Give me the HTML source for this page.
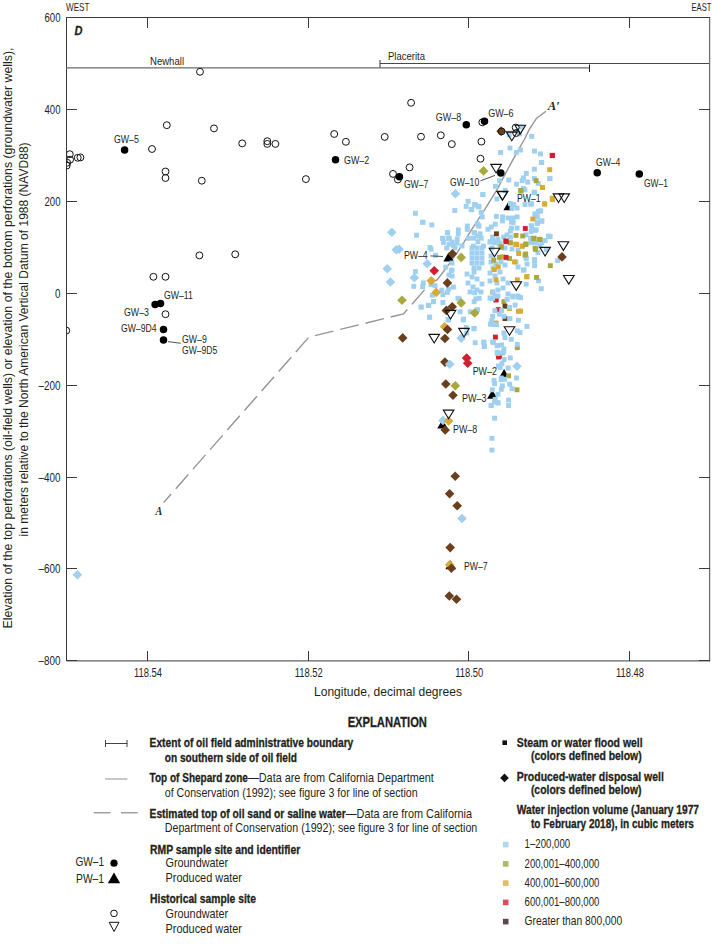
<!DOCTYPE html><html><head><meta charset="utf-8"><style>html,body{margin:0;padding:0;background:#fff;width:713px;height:948px;overflow:hidden}svg{display:block}</style></head><body><svg width="713" height="948" viewBox="0 0 713 948">
<rect width="713" height="948" fill="#fff"/>
<polyline points="709.5,17.5 66.5,17.5 66.5,660.9 709.5,660.9" fill="none" stroke="#3a3a3a" stroke-width="1"/>
<line x1="709.6" y1="17" x2="709.6" y2="661.4" stroke="#707070" stroke-width="1.3"/>
<line x1="147.5" y1="651" x2="147.5" y2="661" stroke="#3a3a3a" stroke-width="1"/>
<line x1="147.5" y1="17" x2="147.5" y2="28" stroke="#3a3a3a" stroke-width="1"/>
<line x1="308.5" y1="651" x2="308.5" y2="661" stroke="#3a3a3a" stroke-width="1"/>
<line x1="308.5" y1="17" x2="308.5" y2="28" stroke="#3a3a3a" stroke-width="1"/>
<line x1="468.5" y1="651" x2="468.5" y2="661" stroke="#3a3a3a" stroke-width="1"/>
<line x1="468.5" y1="17" x2="468.5" y2="28" stroke="#3a3a3a" stroke-width="1"/>
<line x1="629.5" y1="651" x2="629.5" y2="661" stroke="#3a3a3a" stroke-width="1"/>
<line x1="629.5" y1="17" x2="629.5" y2="28" stroke="#3a3a3a" stroke-width="1"/>
<line x1="66" y1="660.5" x2="77" y2="660.5" stroke="#3a3a3a" stroke-width="1"/>
<line x1="699" y1="660.5" x2="710" y2="660.5" stroke="#3a3a3a" stroke-width="1"/>
<line x1="66" y1="568.5" x2="77" y2="568.5" stroke="#3a3a3a" stroke-width="1"/>
<line x1="699" y1="568.5" x2="710" y2="568.5" stroke="#3a3a3a" stroke-width="1"/>
<line x1="66" y1="477.5" x2="77" y2="477.5" stroke="#3a3a3a" stroke-width="1"/>
<line x1="699" y1="477.5" x2="710" y2="477.5" stroke="#3a3a3a" stroke-width="1"/>
<line x1="66" y1="385.5" x2="77" y2="385.5" stroke="#3a3a3a" stroke-width="1"/>
<line x1="699" y1="385.5" x2="710" y2="385.5" stroke="#3a3a3a" stroke-width="1"/>
<line x1="66" y1="293.5" x2="77" y2="293.5" stroke="#3a3a3a" stroke-width="1"/>
<line x1="699" y1="293.5" x2="710" y2="293.5" stroke="#3a3a3a" stroke-width="1"/>
<line x1="66" y1="201.5" x2="77" y2="201.5" stroke="#3a3a3a" stroke-width="1"/>
<line x1="699" y1="201.5" x2="710" y2="201.5" stroke="#3a3a3a" stroke-width="1"/>
<line x1="66" y1="109.5" x2="77" y2="109.5" stroke="#3a3a3a" stroke-width="1"/>
<line x1="699" y1="109.5" x2="710" y2="109.5" stroke="#3a3a3a" stroke-width="1"/>
<line x1="66" y1="17.5" x2="77" y2="17.5" stroke="#3a3a3a" stroke-width="1"/>
<line x1="699" y1="17.5" x2="710" y2="17.5" stroke="#3a3a3a" stroke-width="1"/>
<text x="60.5" y="665.0" font-family="Liberation Sans" font-size="12.2" font-weight="normal" font-style="normal" text-anchor="end" fill="#231f20" textLength="22.0" lengthAdjust="spacingAndGlyphs">–800</text>
<text x="60.5" y="573.0" font-family="Liberation Sans" font-size="12.2" font-weight="normal" font-style="normal" text-anchor="end" fill="#231f20" textLength="22.0" lengthAdjust="spacingAndGlyphs">–600</text>
<text x="60.5" y="482.0" font-family="Liberation Sans" font-size="12.2" font-weight="normal" font-style="normal" text-anchor="end" fill="#231f20" textLength="22.0" lengthAdjust="spacingAndGlyphs">–400</text>
<text x="60.5" y="390.0" font-family="Liberation Sans" font-size="12.2" font-weight="normal" font-style="normal" text-anchor="end" fill="#231f20" textLength="22.0" lengthAdjust="spacingAndGlyphs">–200</text>
<text x="60.5" y="298.0" font-family="Liberation Sans" font-size="12.2" font-weight="normal" font-style="normal" text-anchor="end" fill="#231f20" textLength="5.5" lengthAdjust="spacingAndGlyphs">0</text>
<text x="60.5" y="206.0" font-family="Liberation Sans" font-size="12.2" font-weight="normal" font-style="normal" text-anchor="end" fill="#231f20" textLength="16.0" lengthAdjust="spacingAndGlyphs">200</text>
<text x="60.5" y="114.0" font-family="Liberation Sans" font-size="12.2" font-weight="normal" font-style="normal" text-anchor="end" fill="#231f20" textLength="16.0" lengthAdjust="spacingAndGlyphs">400</text>
<text x="60.5" y="22.0" font-family="Liberation Sans" font-size="12.2" font-weight="normal" font-style="normal" text-anchor="end" fill="#231f20" textLength="16.0" lengthAdjust="spacingAndGlyphs">600</text>
<text x="148.0" y="677.0" font-family="Liberation Sans" font-size="12.2" font-weight="normal" font-style="normal" text-anchor="middle" fill="#231f20" textLength="28.0" lengthAdjust="spacingAndGlyphs">118.54</text>
<text x="308.7" y="677.0" font-family="Liberation Sans" font-size="12.2" font-weight="normal" font-style="normal" text-anchor="middle" fill="#231f20" textLength="28.0" lengthAdjust="spacingAndGlyphs">118.52</text>
<text x="469.3" y="677.0" font-family="Liberation Sans" font-size="12.2" font-weight="normal" font-style="normal" text-anchor="middle" fill="#231f20" textLength="28.0" lengthAdjust="spacingAndGlyphs">118.50</text>
<text x="630.0" y="677.0" font-family="Liberation Sans" font-size="12.2" font-weight="normal" font-style="normal" text-anchor="middle" fill="#231f20" textLength="28.0" lengthAdjust="spacingAndGlyphs">118.48</text>
<text x="66.0" y="11.0" font-family="Liberation Sans" font-size="10.8" font-weight="normal" font-style="normal" text-anchor="start" fill="#231f20" textLength="23.5" lengthAdjust="spacingAndGlyphs">WEST</text>
<text x="711.5" y="11.0" font-family="Liberation Sans" font-size="10.8" font-weight="normal" font-style="normal" text-anchor="end" fill="#231f20" textLength="20.0" lengthAdjust="spacingAndGlyphs">EAST</text>
<text x="74.6" y="35.0" font-family="Liberation Sans" font-size="13.5" font-weight="bold" font-style="italic" text-anchor="start" fill="#231f20" textLength="8.0" lengthAdjust="spacingAndGlyphs" stroke="#231f20" stroke-width="0.3">D</text>
<text x="388.0" y="696.3" font-family="Liberation Sans" font-size="13.5" font-weight="normal" font-style="normal" text-anchor="middle" fill="#231f20" textLength="148.0" lengthAdjust="spacingAndGlyphs">Longitude, decimal degrees</text>
<g transform="translate(12,338) rotate(-90)">
<text x="0.0" y="0.0" font-family="Liberation Sans" font-size="13.5" font-weight="normal" font-style="normal" text-anchor="middle" fill="#231f20" textLength="581.0" lengthAdjust="spacingAndGlyphs">Elevation of the top perforations (oil-field wells) or elevation of the bottom perforations (groundwater wells),</text>
</g>
<g transform="translate(27.9,339.4) rotate(-90)">
<text x="0.0" y="0.0" font-family="Liberation Sans" font-size="13.5" font-weight="normal" font-style="normal" text-anchor="middle" fill="#231f20" textLength="394.0" lengthAdjust="spacingAndGlyphs">in meters relative to the North American Vertical Datum of 1988 (NAVD88)</text>
</g>
<line x1="66" y1="67.9" x2="589.5" y2="67.9" stroke="#6a6a6a" stroke-width="1.4"/>
<line x1="589.5" y1="64.5" x2="589.5" y2="72" stroke="#222" stroke-width="1"/>
<line x1="380" y1="63.5" x2="709" y2="63.5" stroke="#333" stroke-width="0.9"/>
<line x1="380" y1="60" x2="380" y2="67.5" stroke="#333" stroke-width="1"/>
<text x="150.0" y="65.0" font-family="Liberation Sans" font-size="10.8" font-weight="normal" font-style="normal" text-anchor="start" fill="#231f20" textLength="34.0" lengthAdjust="spacingAndGlyphs">Newhall</text>
<text x="388.0" y="60.0" font-family="Liberation Sans" font-size="10.8" font-weight="normal" font-style="normal" text-anchor="start" fill="#231f20" textLength="37.0" lengthAdjust="spacingAndGlyphs">Placerita</text>
<defs><clipPath id="pc"><rect x="66.5" y="17.5" width="643" height="643.4"/></clipPath></defs>
<g clip-path="url(#pc)">
<polyline points="424.5,289.9 403.4,313.9 308.9,337.1 163.6,502.6" fill="none" stroke="#959595" stroke-width="1.4" stroke-dasharray="19 7"/>
<polyline points="428.7,284.4 437.3,279.6 445.2,269.3 452.8,258.9 457.5,252.2 464.2,241.8 471.9,229.2 484.2,210.3 496.6,190.3 506.1,172.3 517.5,151.4 524.1,140 529.3,129.4 536.6,118.2 546,111.3" fill="none" stroke="#959595" stroke-width="1.4"/>
<polygon points="503.4,210.2 514.0,210.2 508.7,201.2" fill="#000"/>
<polygon points="443.4,261.4 453.9,261.4 448.6,252.4" fill="#000"/>
<polygon points="498.9,378.1 509.4,378.1 504.1,369.1" fill="#000"/>
<polygon points="487.1,398.8 497.6,398.8 492.3,389.8" fill="#000"/>
<polygon points="437.2,428.5 447.8,428.5 442.5,419.5" fill="#000"/>
<polygon points="445.4,569.3 455.9,569.3 450.6,560.3" fill="#000"/>
<rect x="490.15" y="289.75" width="4.9" height="4.9" fill="#d8aa38"/>
<rect x="493.55" y="297.05" width="4.9" height="4.9" fill="#d21f30"/>
<rect x="518.15" y="308.65" width="4.9" height="4.9" fill="#d8aa38"/>
<rect x="493.55" y="297.55" width="4.9" height="4.9" fill="#d21f30"/>
<rect x="495.75" y="307.15" width="4.9" height="4.9" fill="#d21f30"/>
<rect x="492.95" y="334.65" width="4.9" height="4.9" fill="#d21f30"/>
<rect x="501.45" y="299.25" width="4.9" height="4.9" fill="#a8a83c"/>
<rect x="514.85" y="345.25" width="4.9" height="4.9" fill="#a8a83c"/>
<rect x="507.05" y="306.05" width="4.9" height="4.9" fill="#d8aa38"/>
<rect x="515.95" y="308.85" width="4.9" height="4.9" fill="#d8aa38"/>
<rect x="493.55" y="320.55" width="4.9" height="4.9" fill="#d8aa38"/>
<rect x="502.55" y="303.75" width="4.9" height="4.9" fill="#6b3f1e"/>
<rect x="502.55" y="316.15" width="4.9" height="4.9" fill="#6b3f1e"/>
<rect x="496.05" y="354.55" width="4.9" height="4.9" fill="#d21f30"/>
<rect x="497.15" y="353.75" width="4.9" height="4.9" fill="#d21f30"/>
<rect x="506.15" y="373.35" width="4.9" height="4.9" fill="#a8a83c"/>
<rect x="514.55" y="387.35" width="4.9" height="4.9" fill="#a8a83c"/>
<rect x="507.55" y="145.55" width="4.9" height="4.9" fill="#a0d0f0"/>
<rect x="498.15" y="150.05" width="4.9" height="4.9" fill="#a0d0f0"/>
<rect x="513.85" y="150.05" width="4.9" height="4.9" fill="#a0d0f0"/>
<rect x="518.05" y="147.55" width="4.9" height="4.9" fill="#a0d0f0"/>
<rect x="529.25" y="133.95" width="4.9" height="4.9" fill="#a0d0f0"/>
<rect x="532.05" y="148.65" width="4.9" height="4.9" fill="#a0d0f0"/>
<rect x="538.05" y="151.45" width="4.9" height="4.9" fill="#a0d0f0"/>
<rect x="506.65" y="132.35" width="4.9" height="4.9" fill="#a0d0f0"/>
<rect x="516.95" y="131.45" width="4.9" height="4.9" fill="#a0d0f0"/>
<rect x="518.95" y="124.55" width="4.9" height="4.9" fill="#a0d0f0"/>
<rect x="538.85" y="159.95" width="4.9" height="4.9" fill="#a0d0f0"/>
<rect x="531.95" y="166.75" width="4.9" height="4.9" fill="#a0d0f0"/>
<rect x="523.85" y="170.95" width="4.9" height="4.9" fill="#a0d0f0"/>
<rect x="547.25" y="176.15" width="4.9" height="4.9" fill="#a0d0f0"/>
<rect x="531.95" y="176.15" width="4.9" height="4.9" fill="#a0d0f0"/>
<rect x="535.75" y="181.05" width="4.9" height="4.9" fill="#a0d0f0"/>
<rect x="521.05" y="175.45" width="4.9" height="4.9" fill="#a0d0f0"/>
<rect x="525.25" y="179.65" width="4.9" height="4.9" fill="#a0d0f0"/>
<rect x="519.65" y="178.25" width="4.9" height="4.9" fill="#a0d0f0"/>
<rect x="506.35" y="177.55" width="4.9" height="4.9" fill="#a0d0f0"/>
<rect x="497.15" y="178.25" width="4.9" height="4.9" fill="#a0d0f0"/>
<rect x="492.95" y="183.85" width="4.9" height="4.9" fill="#a0d0f0"/>
<rect x="514.05" y="181.75" width="4.9" height="4.9" fill="#a0d0f0"/>
<rect x="521.05" y="185.95" width="4.9" height="4.9" fill="#a0d0f0"/>
<rect x="522.45" y="187.35" width="4.9" height="4.9" fill="#a0d0f0"/>
<rect x="532.25" y="190.15" width="4.9" height="4.9" fill="#a0d0f0"/>
<rect x="502.75" y="188.05" width="4.9" height="4.9" fill="#a0d0f0"/>
<rect x="480.35" y="192.25" width="4.9" height="4.9" fill="#a0d0f0"/>
<rect x="547.55" y="176.15" width="4.9" height="4.9" fill="#a0d0f0"/>
<rect x="539.25" y="160.15" width="4.9" height="4.9" fill="#a0d0f0"/>
<rect x="412.95" y="210.85" width="4.9" height="4.9" fill="#a0d0f0"/>
<rect x="420.55" y="219.85" width="4.9" height="4.9" fill="#a0d0f0"/>
<rect x="429.35" y="222.45" width="4.9" height="4.9" fill="#a0d0f0"/>
<rect x="414.05" y="232.75" width="4.9" height="4.9" fill="#a0d0f0"/>
<rect x="452.35" y="208.05" width="4.9" height="4.9" fill="#a0d0f0"/>
<rect x="465.65" y="198.85" width="4.9" height="4.9" fill="#a0d0f0"/>
<rect x="463.75" y="203.95" width="4.9" height="4.9" fill="#a0d0f0"/>
<rect x="468.75" y="207.25" width="4.9" height="4.9" fill="#a0d0f0"/>
<rect x="473.25" y="202.75" width="4.9" height="4.9" fill="#a0d0f0"/>
<rect x="476.05" y="204.45" width="4.9" height="4.9" fill="#a0d0f0"/>
<rect x="464.85" y="223.55" width="4.9" height="4.9" fill="#a0d0f0"/>
<rect x="464.85" y="226.95" width="4.9" height="4.9" fill="#a0d0f0"/>
<rect x="455.85" y="227.45" width="4.9" height="4.9" fill="#a0d0f0"/>
<rect x="455.85" y="231.45" width="4.9" height="4.9" fill="#a0d0f0"/>
<rect x="445.25" y="230.25" width="4.9" height="4.9" fill="#a0d0f0"/>
<rect x="440.15" y="235.85" width="4.9" height="4.9" fill="#a0d0f0"/>
<rect x="446.95" y="235.85" width="4.9" height="4.9" fill="#a0d0f0"/>
<rect x="454.75" y="236.55" width="4.9" height="4.9" fill="#a0d0f0"/>
<rect x="476.05" y="223.55" width="4.9" height="4.9" fill="#a0d0f0"/>
<rect x="471.55" y="230.25" width="4.9" height="4.9" fill="#a0d0f0"/>
<rect x="474.95" y="233.65" width="4.9" height="4.9" fill="#a0d0f0"/>
<rect x="465.95" y="235.85" width="4.9" height="4.9" fill="#a0d0f0"/>
<rect x="480.45" y="192.05" width="4.9" height="4.9" fill="#a0d0f0"/>
<rect x="531.55" y="189.75" width="4.9" height="4.9" fill="#a0d0f0"/>
<rect x="494.45" y="196.55" width="4.9" height="4.9" fill="#a0d0f0"/>
<rect x="472.05" y="202.15" width="4.9" height="4.9" fill="#a0d0f0"/>
<rect x="476.55" y="203.85" width="4.9" height="4.9" fill="#a0d0f0"/>
<rect x="469.25" y="207.15" width="4.9" height="4.9" fill="#a0d0f0"/>
<rect x="478.75" y="209.95" width="4.9" height="4.9" fill="#a0d0f0"/>
<rect x="479.85" y="214.45" width="4.9" height="4.9" fill="#a0d0f0"/>
<rect x="507.95" y="201.05" width="4.9" height="4.9" fill="#a0d0f0"/>
<rect x="511.35" y="202.15" width="4.9" height="4.9" fill="#a0d0f0"/>
<rect x="514.65" y="205.55" width="4.9" height="4.9" fill="#a0d0f0"/>
<rect x="509.55" y="205.55" width="4.9" height="4.9" fill="#a0d0f0"/>
<rect x="528.15" y="201.55" width="4.9" height="4.9" fill="#a0d0f0"/>
<rect x="522.55" y="202.15" width="4.9" height="4.9" fill="#a0d0f0"/>
<rect x="535.95" y="208.85" width="4.9" height="4.9" fill="#a0d0f0"/>
<rect x="538.25" y="208.35" width="4.9" height="4.9" fill="#a0d0f0"/>
<rect x="532.65" y="211.65" width="4.9" height="4.9" fill="#a0d0f0"/>
<rect x="534.85" y="214.45" width="4.9" height="4.9" fill="#a0d0f0"/>
<rect x="539.35" y="218.45" width="4.9" height="4.9" fill="#a0d0f0"/>
<rect x="534.85" y="220.05" width="4.9" height="4.9" fill="#a0d0f0"/>
<rect x="528.75" y="223.45" width="4.9" height="4.9" fill="#a0d0f0"/>
<rect x="530.35" y="227.35" width="4.9" height="4.9" fill="#a0d0f0"/>
<rect x="533.75" y="227.35" width="4.9" height="4.9" fill="#a0d0f0"/>
<rect x="493.95" y="213.95" width="4.9" height="4.9" fill="#a0d0f0"/>
<rect x="500.05" y="214.45" width="4.9" height="4.9" fill="#a0d0f0"/>
<rect x="505.65" y="215.55" width="4.9" height="4.9" fill="#a0d0f0"/>
<rect x="510.15" y="215.55" width="4.9" height="4.9" fill="#a0d0f0"/>
<rect x="514.65" y="214.45" width="4.9" height="4.9" fill="#a0d0f0"/>
<rect x="500.05" y="218.45" width="4.9" height="4.9" fill="#a0d0f0"/>
<rect x="509.05" y="219.55" width="4.9" height="4.9" fill="#a0d0f0"/>
<rect x="510.75" y="220.05" width="4.9" height="4.9" fill="#a0d0f0"/>
<rect x="492.75" y="221.75" width="4.9" height="4.9" fill="#a0d0f0"/>
<rect x="488.85" y="224.55" width="4.9" height="4.9" fill="#a0d0f0"/>
<rect x="485.55" y="226.85" width="4.9" height="4.9" fill="#a0d0f0"/>
<rect x="476.55" y="223.45" width="4.9" height="4.9" fill="#a0d0f0"/>
<rect x="509.05" y="225.65" width="4.9" height="4.9" fill="#a0d0f0"/>
<rect x="514.65" y="225.65" width="4.9" height="4.9" fill="#a0d0f0"/>
<rect x="507.95" y="228.55" width="4.9" height="4.9" fill="#a0d0f0"/>
<rect x="504.55" y="232.45" width="4.9" height="4.9" fill="#a0d0f0"/>
<rect x="507.95" y="234.65" width="4.9" height="4.9" fill="#a0d0f0"/>
<rect x="523.55" y="232.45" width="4.9" height="4.9" fill="#a0d0f0"/>
<rect x="528.15" y="235.75" width="4.9" height="4.9" fill="#a0d0f0"/>
<rect x="546.05" y="233.55" width="4.9" height="4.9" fill="#a0d0f0"/>
<rect x="489.95" y="234.65" width="4.9" height="4.9" fill="#a0d0f0"/>
<rect x="495.55" y="236.95" width="4.9" height="4.9" fill="#a0d0f0"/>
<rect x="487.75" y="239.15" width="4.9" height="4.9" fill="#a0d0f0"/>
<rect x="492.25" y="240.25" width="4.9" height="4.9" fill="#a0d0f0"/>
<rect x="496.75" y="241.45" width="4.9" height="4.9" fill="#a0d0f0"/>
<rect x="501.25" y="234.65" width="4.9" height="4.9" fill="#a0d0f0"/>
<rect x="472.05" y="230.15" width="4.9" height="4.9" fill="#a0d0f0"/>
<rect x="477.65" y="231.35" width="4.9" height="4.9" fill="#a0d0f0"/>
<rect x="470.95" y="235.75" width="4.9" height="4.9" fill="#a0d0f0"/>
<rect x="475.45" y="239.15" width="4.9" height="4.9" fill="#a0d0f0"/>
<rect x="478.75" y="235.75" width="4.9" height="4.9" fill="#a0d0f0"/>
<rect x="470.95" y="243.65" width="4.9" height="4.9" fill="#a0d0f0"/>
<rect x="481.05" y="243.65" width="4.9" height="4.9" fill="#a0d0f0"/>
<rect x="528.75" y="240.25" width="4.9" height="4.9" fill="#a0d0f0"/>
<rect x="533.75" y="240.25" width="4.9" height="4.9" fill="#a0d0f0"/>
<rect x="539.35" y="240.25" width="4.9" height="4.9" fill="#a0d0f0"/>
<rect x="542.75" y="238.05" width="4.9" height="4.9" fill="#a0d0f0"/>
<rect x="474.85" y="221.25" width="4.9" height="4.9" fill="#a0d0f0"/>
<rect x="420.25" y="219.75" width="4.9" height="4.9" fill="#a0d0f0"/>
<rect x="444.95" y="230.45" width="4.9" height="4.9" fill="#a0d0f0"/>
<rect x="440.45" y="236.05" width="4.9" height="4.9" fill="#a0d0f0"/>
<rect x="446.05" y="236.05" width="4.9" height="4.9" fill="#a0d0f0"/>
<rect x="440.95" y="239.95" width="4.9" height="4.9" fill="#a0d0f0"/>
<rect x="446.55" y="241.65" width="4.9" height="4.9" fill="#a0d0f0"/>
<rect x="451.05" y="243.35" width="4.9" height="4.9" fill="#a0d0f0"/>
<rect x="444.35" y="245.55" width="4.9" height="4.9" fill="#a0d0f0"/>
<rect x="427.55" y="245.05" width="4.9" height="4.9" fill="#a0d0f0"/>
<rect x="428.65" y="246.75" width="4.9" height="4.9" fill="#a0d0f0"/>
<rect x="433.15" y="252.85" width="4.9" height="4.9" fill="#a0d0f0"/>
<rect x="443.25" y="264.65" width="4.9" height="4.9" fill="#a0d0f0"/>
<rect x="448.85" y="268.05" width="4.9" height="4.9" fill="#a0d0f0"/>
<rect x="446.55" y="272.55" width="4.9" height="4.9" fill="#a0d0f0"/>
<rect x="412.95" y="269.05" width="4.9" height="4.9" fill="#a0d0f0"/>
<rect x="411.35" y="283.85" width="4.9" height="4.9" fill="#a0d0f0"/>
<rect x="420.85" y="280.45" width="4.9" height="4.9" fill="#a0d0f0"/>
<rect x="420.25" y="284.35" width="4.9" height="4.9" fill="#a0d0f0"/>
<rect x="428.75" y="282.15" width="4.9" height="4.9" fill="#a0d0f0"/>
<rect x="432.65" y="283.25" width="4.9" height="4.9" fill="#a0d0f0"/>
<rect x="429.85" y="292.75" width="4.9" height="4.9" fill="#a0d0f0"/>
<rect x="430.95" y="298.95" width="4.9" height="4.9" fill="#a0d0f0"/>
<rect x="425.85" y="302.85" width="4.9" height="4.9" fill="#a0d0f0"/>
<rect x="418.65" y="304.55" width="4.9" height="4.9" fill="#a0d0f0"/>
<rect x="427.05" y="314.65" width="4.9" height="4.9" fill="#a0d0f0"/>
<rect x="440.45" y="300.05" width="4.9" height="4.9" fill="#a0d0f0"/>
<rect x="439.35" y="287.75" width="4.9" height="4.9" fill="#a0d0f0"/>
<rect x="446.05" y="286.65" width="4.9" height="4.9" fill="#a0d0f0"/>
<rect x="444.95" y="289.95" width="4.9" height="4.9" fill="#a0d0f0"/>
<rect x="445.55" y="316.95" width="4.9" height="4.9" fill="#a0d0f0"/>
<rect x="440.45" y="292.25" width="4.9" height="4.9" fill="#a0d0f0"/>
<rect x="469.55" y="245.55" width="4.9" height="4.9" fill="#a0d0f0"/>
<rect x="474.55" y="245.55" width="4.9" height="4.9" fill="#a0d0f0"/>
<rect x="479.55" y="245.55" width="4.9" height="4.9" fill="#a0d0f0"/>
<rect x="469.55" y="250.55" width="4.9" height="4.9" fill="#a0d0f0"/>
<rect x="474.55" y="250.55" width="4.9" height="4.9" fill="#a0d0f0"/>
<rect x="479.55" y="250.55" width="4.9" height="4.9" fill="#a0d0f0"/>
<rect x="469.55" y="255.55" width="4.9" height="4.9" fill="#a0d0f0"/>
<rect x="474.55" y="255.55" width="4.9" height="4.9" fill="#a0d0f0"/>
<rect x="479.55" y="255.55" width="4.9" height="4.9" fill="#a0d0f0"/>
<rect x="469.55" y="260.55" width="4.9" height="4.9" fill="#a0d0f0"/>
<rect x="474.55" y="260.55" width="4.9" height="4.9" fill="#a0d0f0"/>
<rect x="479.55" y="260.55" width="4.9" height="4.9" fill="#a0d0f0"/>
<rect x="471.55" y="265.55" width="4.9" height="4.9" fill="#a0d0f0"/>
<rect x="476.55" y="265.55" width="4.9" height="4.9" fill="#a0d0f0"/>
<rect x="471.55" y="269.55" width="4.9" height="4.9" fill="#a0d0f0"/>
<rect x="449.55" y="239.55" width="4.9" height="4.9" fill="#a0d0f0"/>
<rect x="454.55" y="240.55" width="4.9" height="4.9" fill="#a0d0f0"/>
<rect x="459.55" y="243.55" width="4.9" height="4.9" fill="#a0d0f0"/>
<rect x="452.55" y="245.55" width="4.9" height="4.9" fill="#a0d0f0"/>
<rect x="449.55" y="260.55" width="4.9" height="4.9" fill="#a0d0f0"/>
<rect x="449.55" y="267.55" width="4.9" height="4.9" fill="#a0d0f0"/>
<rect x="449.55" y="273.55" width="4.9" height="4.9" fill="#a0d0f0"/>
<rect x="464.55" y="271.55" width="4.9" height="4.9" fill="#a0d0f0"/>
<rect x="469.55" y="274.55" width="4.9" height="4.9" fill="#a0d0f0"/>
<rect x="474.55" y="276.55" width="4.9" height="4.9" fill="#a0d0f0"/>
<rect x="479.55" y="281.55" width="4.9" height="4.9" fill="#a0d0f0"/>
<rect x="465.55" y="280.55" width="4.9" height="4.9" fill="#a0d0f0"/>
<rect x="470.55" y="284.55" width="4.9" height="4.9" fill="#a0d0f0"/>
<rect x="474.55" y="287.55" width="4.9" height="4.9" fill="#a0d0f0"/>
<rect x="478.55" y="289.55" width="4.9" height="4.9" fill="#a0d0f0"/>
<rect x="467.55" y="289.55" width="4.9" height="4.9" fill="#a0d0f0"/>
<rect x="455.45" y="295.85" width="4.9" height="4.9" fill="#a0d0f0"/>
<rect x="450.95" y="284.65" width="4.9" height="4.9" fill="#a0d0f0"/>
<rect x="472.25" y="290.25" width="4.9" height="4.9" fill="#a0d0f0"/>
<rect x="476.75" y="295.85" width="4.9" height="4.9" fill="#a0d0f0"/>
<rect x="487.55" y="239.55" width="4.9" height="4.9" fill="#a0d0f0"/>
<rect x="492.55" y="238.55" width="4.9" height="4.9" fill="#a0d0f0"/>
<rect x="497.55" y="240.55" width="4.9" height="4.9" fill="#a0d0f0"/>
<rect x="507.55" y="240.55" width="4.9" height="4.9" fill="#a0d0f0"/>
<rect x="512.55" y="241.55" width="4.9" height="4.9" fill="#a0d0f0"/>
<rect x="502.55" y="245.55" width="4.9" height="4.9" fill="#a0d0f0"/>
<rect x="509.55" y="246.55" width="4.9" height="4.9" fill="#a0d0f0"/>
<rect x="515.55" y="247.55" width="4.9" height="4.9" fill="#a0d0f0"/>
<rect x="489.55" y="245.55" width="4.9" height="4.9" fill="#a0d0f0"/>
<rect x="488.55" y="253.55" width="4.9" height="4.9" fill="#a0d0f0"/>
<rect x="488.55" y="259.55" width="4.9" height="4.9" fill="#a0d0f0"/>
<rect x="493.55" y="261.55" width="4.9" height="4.9" fill="#a0d0f0"/>
<rect x="498.55" y="259.55" width="4.9" height="4.9" fill="#a0d0f0"/>
<rect x="503.55" y="255.55" width="4.9" height="4.9" fill="#a0d0f0"/>
<rect x="502.55" y="262.55" width="4.9" height="4.9" fill="#a0d0f0"/>
<rect x="490.55" y="265.55" width="4.9" height="4.9" fill="#a0d0f0"/>
<rect x="487.55" y="270.55" width="4.9" height="4.9" fill="#a0d0f0"/>
<rect x="492.55" y="273.55" width="4.9" height="4.9" fill="#a0d0f0"/>
<rect x="497.55" y="269.55" width="4.9" height="4.9" fill="#a0d0f0"/>
<rect x="487.55" y="278.55" width="4.9" height="4.9" fill="#a0d0f0"/>
<rect x="494.55" y="280.55" width="4.9" height="4.9" fill="#a0d0f0"/>
<rect x="500.55" y="276.55" width="4.9" height="4.9" fill="#a0d0f0"/>
<rect x="505.55" y="280.55" width="4.9" height="4.9" fill="#a0d0f0"/>
<rect x="500.55" y="285.55" width="4.9" height="4.9" fill="#a0d0f0"/>
<rect x="495.55" y="287.55" width="4.9" height="4.9" fill="#a0d0f0"/>
<rect x="513.55" y="259.55" width="4.9" height="4.9" fill="#a0d0f0"/>
<rect x="515.55" y="264.55" width="4.9" height="4.9" fill="#a0d0f0"/>
<rect x="521.55" y="267.55" width="4.9" height="4.9" fill="#a0d0f0"/>
<rect x="524.55" y="261.55" width="4.9" height="4.9" fill="#a0d0f0"/>
<rect x="523.55" y="255.55" width="4.9" height="4.9" fill="#a0d0f0"/>
<rect x="490.55" y="289.55" width="4.9" height="4.9" fill="#a0d0f0"/>
<rect x="495.55" y="293.55" width="4.9" height="4.9" fill="#a0d0f0"/>
<rect x="487.55" y="295.55" width="4.9" height="4.9" fill="#a0d0f0"/>
<rect x="505.55" y="291.55" width="4.9" height="4.9" fill="#a0d0f0"/>
<rect x="510.55" y="294.55" width="4.9" height="4.9" fill="#a0d0f0"/>
<rect x="515.55" y="293.55" width="4.9" height="4.9" fill="#a0d0f0"/>
<rect x="529.25" y="201.45" width="4.9" height="4.9" fill="#a0d0f0"/>
<rect x="537.65" y="208.75" width="4.9" height="4.9" fill="#a0d0f0"/>
<rect x="532.55" y="211.55" width="4.9" height="4.9" fill="#a0d0f0"/>
<rect x="534.25" y="214.35" width="4.9" height="4.9" fill="#a0d0f0"/>
<rect x="539.35" y="218.85" width="4.9" height="4.9" fill="#a0d0f0"/>
<rect x="534.85" y="221.15" width="4.9" height="4.9" fill="#a0d0f0"/>
<rect x="529.25" y="223.35" width="4.9" height="4.9" fill="#a0d0f0"/>
<rect x="533.15" y="227.85" width="4.9" height="4.9" fill="#a0d0f0"/>
<rect x="528.65" y="228.95" width="4.9" height="4.9" fill="#a0d0f0"/>
<rect x="547.75" y="234.05" width="4.9" height="4.9" fill="#a0d0f0"/>
<rect x="530.95" y="240.15" width="4.9" height="4.9" fill="#a0d0f0"/>
<rect x="535.45" y="250.25" width="4.9" height="4.9" fill="#a0d0f0"/>
<rect x="537.65" y="243.55" width="4.9" height="4.9" fill="#a0d0f0"/>
<rect x="543.85" y="246.95" width="4.9" height="4.9" fill="#a0d0f0"/>
<rect x="532.05" y="257.05" width="4.9" height="4.9" fill="#a0d0f0"/>
<rect x="523.75" y="255.95" width="4.9" height="4.9" fill="#a0d0f0"/>
<rect x="532.15" y="258.75" width="4.9" height="4.9" fill="#a0d0f0"/>
<rect x="532.15" y="263.25" width="4.9" height="4.9" fill="#a0d0f0"/>
<rect x="555.15" y="258.15" width="4.9" height="4.9" fill="#a0d0f0"/>
<rect x="520.95" y="267.65" width="4.9" height="4.9" fill="#a0d0f0"/>
<rect x="536.05" y="278.35" width="4.9" height="4.9" fill="#a0d0f0"/>
<rect x="523.75" y="281.75" width="4.9" height="4.9" fill="#a0d0f0"/>
<rect x="538.85" y="286.25" width="4.9" height="4.9" fill="#a0d0f0"/>
<rect x="518.15" y="295.15" width="4.9" height="4.9" fill="#a0d0f0"/>
<rect x="456.55" y="296.45" width="4.9" height="4.9" fill="#a0d0f0"/>
<rect x="473.35" y="296.45" width="4.9" height="4.9" fill="#a0d0f0"/>
<rect x="471.65" y="299.25" width="4.9" height="4.9" fill="#a0d0f0"/>
<rect x="475.05" y="307.15" width="4.9" height="4.9" fill="#a0d0f0"/>
<rect x="457.65" y="309.35" width="4.9" height="4.9" fill="#a0d0f0"/>
<rect x="467.75" y="309.35" width="4.9" height="4.9" fill="#a0d0f0"/>
<rect x="461.05" y="316.65" width="4.9" height="4.9" fill="#a0d0f0"/>
<rect x="463.85" y="325.05" width="4.9" height="4.9" fill="#a0d0f0"/>
<rect x="471.65" y="326.25" width="4.9" height="4.9" fill="#a0d0f0"/>
<rect x="464.35" y="330.65" width="4.9" height="4.9" fill="#a0d0f0"/>
<rect x="472.75" y="340.25" width="4.9" height="4.9" fill="#a0d0f0"/>
<rect x="481.25" y="339.65" width="4.9" height="4.9" fill="#a0d0f0"/>
<rect x="481.75" y="344.15" width="4.9" height="4.9" fill="#a0d0f0"/>
<rect x="492.45" y="293.65" width="4.9" height="4.9" fill="#a0d0f0"/>
<rect x="490.15" y="295.95" width="4.9" height="4.9" fill="#a0d0f0"/>
<rect x="504.75" y="297.05" width="4.9" height="4.9" fill="#a0d0f0"/>
<rect x="510.35" y="293.65" width="4.9" height="4.9" fill="#a0d0f0"/>
<rect x="515.95" y="294.75" width="4.9" height="4.9" fill="#a0d0f0"/>
<rect x="512.65" y="302.65" width="4.9" height="4.9" fill="#a0d0f0"/>
<rect x="507.05" y="304.85" width="4.9" height="4.9" fill="#a0d0f0"/>
<rect x="492.45" y="308.25" width="4.9" height="4.9" fill="#a0d0f0"/>
<rect x="499.15" y="308.25" width="4.9" height="4.9" fill="#a0d0f0"/>
<rect x="496.95" y="311.65" width="4.9" height="4.9" fill="#a0d0f0"/>
<rect x="490.15" y="313.85" width="4.9" height="4.9" fill="#a0d0f0"/>
<rect x="501.45" y="313.85" width="4.9" height="4.9" fill="#a0d0f0"/>
<rect x="507.55" y="316.15" width="4.9" height="4.9" fill="#a0d0f0"/>
<rect x="489.05" y="318.35" width="4.9" height="4.9" fill="#a0d0f0"/>
<rect x="487.95" y="321.75" width="4.9" height="4.9" fill="#a0d0f0"/>
<rect x="494.15" y="322.25" width="4.9" height="4.9" fill="#a0d0f0"/>
<rect x="515.95" y="317.75" width="4.9" height="4.9" fill="#a0d0f0"/>
<rect x="524.45" y="323.95" width="4.9" height="4.9" fill="#a0d0f0"/>
<rect x="514.85" y="328.45" width="4.9" height="4.9" fill="#a0d0f0"/>
<rect x="517.65" y="330.15" width="4.9" height="4.9" fill="#a0d0f0"/>
<rect x="501.45" y="330.65" width="4.9" height="4.9" fill="#a0d0f0"/>
<rect x="502.55" y="335.15" width="4.9" height="4.9" fill="#a0d0f0"/>
<rect x="508.75" y="336.85" width="4.9" height="4.9" fill="#a0d0f0"/>
<rect x="490.15" y="339.65" width="4.9" height="4.9" fill="#a0d0f0"/>
<rect x="494.65" y="343.05" width="4.9" height="4.9" fill="#a0d0f0"/>
<rect x="499.15" y="342.45" width="4.9" height="4.9" fill="#a0d0f0"/>
<rect x="501.45" y="346.45" width="4.9" height="4.9" fill="#a0d0f0"/>
<rect x="494.65" y="349.75" width="4.9" height="4.9" fill="#a0d0f0"/>
<rect x="500.25" y="350.85" width="4.9" height="4.9" fill="#a0d0f0"/>
<rect x="514.85" y="341.95" width="4.9" height="4.9" fill="#a0d0f0"/>
<rect x="471.45" y="325.95" width="4.9" height="4.9" fill="#a0d0f0"/>
<rect x="481.55" y="339.95" width="4.9" height="4.9" fill="#a0d0f0"/>
<rect x="482.05" y="343.95" width="4.9" height="4.9" fill="#a0d0f0"/>
<rect x="491.05" y="339.95" width="4.9" height="4.9" fill="#a0d0f0"/>
<rect x="494.95" y="343.35" width="4.9" height="4.9" fill="#a0d0f0"/>
<rect x="495.55" y="350.65" width="4.9" height="4.9" fill="#a0d0f0"/>
<rect x="496.05" y="363.55" width="4.9" height="4.9" fill="#a0d0f0"/>
<rect x="491.55" y="322.05" width="4.9" height="4.9" fill="#a0d0f0"/>
<rect x="446.15" y="317.55" width="4.9" height="4.9" fill="#a0d0f0"/>
<rect x="460.75" y="317.55" width="4.9" height="4.9" fill="#a0d0f0"/>
<rect x="418.75" y="304.75" width="4.9" height="4.9" fill="#a0d0f0"/>
<rect x="426.35" y="303.05" width="4.9" height="4.9" fill="#a0d0f0"/>
<rect x="431.05" y="299.25" width="4.9" height="4.9" fill="#a0d0f0"/>
<rect x="427.25" y="314.85" width="4.9" height="4.9" fill="#a0d0f0"/>
<rect x="494.95" y="350.95" width="4.9" height="4.9" fill="#a0d0f0"/>
<rect x="501.15" y="349.25" width="4.9" height="4.9" fill="#a0d0f0"/>
<rect x="507.85" y="355.45" width="4.9" height="4.9" fill="#a0d0f0"/>
<rect x="501.65" y="357.05" width="4.9" height="4.9" fill="#a0d0f0"/>
<rect x="499.45" y="361.05" width="4.9" height="4.9" fill="#a0d0f0"/>
<rect x="497.75" y="364.95" width="4.9" height="4.9" fill="#a0d0f0"/>
<rect x="505.65" y="365.55" width="4.9" height="4.9" fill="#a0d0f0"/>
<rect x="498.85" y="375.55" width="4.9" height="4.9" fill="#a0d0f0"/>
<rect x="502.25" y="376.75" width="4.9" height="4.9" fill="#a0d0f0"/>
<rect x="491.55" y="377.85" width="4.9" height="4.9" fill="#a0d0f0"/>
<rect x="492.15" y="381.25" width="4.9" height="4.9" fill="#a0d0f0"/>
<rect x="499.95" y="383.45" width="4.9" height="4.9" fill="#a0d0f0"/>
<rect x="498.85" y="386.85" width="4.9" height="4.9" fill="#a0d0f0"/>
<rect x="507.25" y="381.75" width="4.9" height="4.9" fill="#a0d0f0"/>
<rect x="509.55" y="386.25" width="4.9" height="4.9" fill="#a0d0f0"/>
<rect x="489.85" y="387.35" width="4.9" height="4.9" fill="#a0d0f0"/>
<rect x="495.55" y="391.85" width="4.9" height="4.9" fill="#a0d0f0"/>
<rect x="492.65" y="396.95" width="4.9" height="4.9" fill="#a0d0f0"/>
<rect x="495.55" y="400.25" width="4.9" height="4.9" fill="#a0d0f0"/>
<rect x="488.75" y="403.05" width="4.9" height="4.9" fill="#a0d0f0"/>
<rect x="506.15" y="397.55" width="4.9" height="4.9" fill="#a0d0f0"/>
<rect x="506.15" y="403.05" width="4.9" height="4.9" fill="#a0d0f0"/>
<rect x="514.05" y="375.55" width="4.9" height="4.9" fill="#a0d0f0"/>
<rect x="492.15" y="415.75" width="4.9" height="4.9" fill="#a0d0f0"/>
<rect x="488.75" y="402.85" width="4.9" height="4.9" fill="#a0d0f0"/>
<rect x="492.15" y="399.45" width="4.9" height="4.9" fill="#a0d0f0"/>
<rect x="495.55" y="400.55" width="4.9" height="4.9" fill="#a0d0f0"/>
<rect x="498.85" y="377.05" width="4.9" height="4.9" fill="#a0d0f0"/>
<rect x="489.45" y="447.65" width="4.9" height="4.9" fill="#a0d0f0"/>
<rect x="489.45" y="435.85" width="4.9" height="4.9" fill="#a0d0f0"/>
<rect x="550.05" y="152.85" width="4.9" height="4.9" fill="#d21f30"/>
<rect x="547.25" y="167.25" width="4.9" height="4.9" fill="#d8aa38"/>
<rect x="539.95" y="184.95" width="4.9" height="4.9" fill="#d8aa38"/>
<rect x="549.75" y="195.75" width="4.9" height="4.9" fill="#d8aa38"/>
<rect x="540.05" y="184.95" width="4.9" height="4.9" fill="#d8aa38"/>
<rect x="550.15" y="197.15" width="4.9" height="4.9" fill="#d8aa38"/>
<rect x="542.25" y="201.45" width="4.9" height="4.9" fill="#d8aa38"/>
<rect x="533.65" y="178.25" width="4.9" height="4.9" fill="#a8a83c"/>
<rect x="518.25" y="188.05" width="4.9" height="4.9" fill="#a8a83c"/>
<rect x="549.65" y="153.15" width="4.9" height="4.9" fill="#d21f30"/>
<rect x="518.55" y="188.65" width="4.9" height="4.9" fill="#a8a83c"/>
<rect x="513.55" y="232.95" width="4.9" height="4.9" fill="#a8a83c"/>
<rect x="520.25" y="233.55" width="4.9" height="4.9" fill="#a8a83c"/>
<rect x="531.55" y="235.75" width="4.9" height="4.9" fill="#a8a83c"/>
<rect x="537.15" y="236.95" width="4.9" height="4.9" fill="#a8a83c"/>
<rect x="507.95" y="240.25" width="4.9" height="4.9" fill="#a8a83c"/>
<rect x="523.65" y="241.45" width="4.9" height="4.9" fill="#a8a83c"/>
<rect x="498.95" y="244.25" width="4.9" height="4.9" fill="#a8a83c"/>
<rect x="532.65" y="245.85" width="4.9" height="4.9" fill="#a8a83c"/>
<rect x="542.15" y="201.55" width="4.9" height="4.9" fill="#d8aa38"/>
<rect x="530.35" y="216.55" width="4.9" height="4.9" fill="#d8aa38"/>
<rect x="514.15" y="241.95" width="4.9" height="4.9" fill="#d8aa38"/>
<rect x="519.75" y="243.65" width="4.9" height="4.9" fill="#d8aa38"/>
<rect x="522.85" y="226.05" width="4.9" height="4.9" fill="#d21f30"/>
<rect x="503.45" y="238.55" width="4.9" height="4.9" fill="#d21f30"/>
<rect x="493.95" y="231.35" width="4.9" height="4.9" fill="#6b3f1e"/>
<rect x="513.75" y="242.05" width="4.9" height="4.9" fill="#d8aa38"/>
<rect x="519.95" y="243.75" width="4.9" height="4.9" fill="#d8aa38"/>
<rect x="516.25" y="251.05" width="4.9" height="4.9" fill="#d8aa38"/>
<rect x="500.25" y="254.35" width="4.9" height="4.9" fill="#d8aa38"/>
<rect x="491.85" y="267.25" width="4.9" height="4.9" fill="#d8aa38"/>
<rect x="495.75" y="264.45" width="4.9" height="4.9" fill="#d8aa38"/>
<rect x="493.55" y="277.35" width="4.9" height="4.9" fill="#d8aa38"/>
<rect x="524.45" y="274.05" width="4.9" height="4.9" fill="#d8aa38"/>
<rect x="514.85" y="277.35" width="4.9" height="4.9" fill="#d8aa38"/>
<rect x="512.05" y="259.45" width="4.9" height="4.9" fill="#d8aa38"/>
<rect x="498.65" y="244.85" width="4.9" height="4.9" fill="#a8a83c"/>
<rect x="523.25" y="242.05" width="4.9" height="4.9" fill="#a8a83c"/>
<rect x="523.25" y="251.55" width="4.9" height="4.9" fill="#a8a83c"/>
<rect x="491.35" y="257.75" width="4.9" height="4.9" fill="#a8a83c"/>
<rect x="496.95" y="254.95" width="4.9" height="4.9" fill="#a8a83c"/>
<rect x="507.05" y="256.05" width="4.9" height="4.9" fill="#a8a83c"/>
<rect x="503.65" y="239.25" width="4.9" height="4.9" fill="#d21f30"/>
<rect x="503.65" y="254.95" width="4.9" height="4.9" fill="#d21f30"/>
<rect x="531.45" y="236.25" width="4.9" height="4.9" fill="#a8a83c"/>
<rect x="537.65" y="236.85" width="4.9" height="4.9" fill="#a8a83c"/>
<rect x="533.15" y="246.95" width="4.9" height="4.9" fill="#a8a83c"/>
<rect x="547.85" y="263.25" width="4.9" height="4.9" fill="#a8a83c"/>
<rect x="534.05" y="274.95" width="4.9" height="4.9" fill="#a8a83c"/>
<rect x="522.55" y="252.55" width="4.9" height="4.9" fill="#a8a83c"/>
<rect x="524.25" y="274.45" width="4.9" height="4.9" fill="#d8aa38"/>
<polygon points="501.1,126.4 505.9,131.2 501.1,136.0 496.3,131.2" fill="#6b3f1e"/>
<polygon points="483.5,166.1 488.3,170.9 483.5,175.7 478.7,170.9" fill="#a8a83c"/>
<polygon points="455.5,188.9 460.3,193.7 455.5,198.5 450.7,193.7" fill="#a0d0f0"/>
<polygon points="391.8,227.5 396.6,232.3 391.8,237.1 387.0,232.3" fill="#a0d0f0"/>
<polygon points="396.3,244.9 401.1,249.7 396.3,254.5 391.5,249.7" fill="#a0d0f0"/>
<polygon points="399.1,244.4 403.9,249.2 399.1,254.0 394.3,249.2" fill="#a0d0f0"/>
<polygon points="387.3,264.0 392.1,268.8 387.3,273.6 382.5,268.8" fill="#a0d0f0"/>
<polygon points="390.4,277.2 395.2,282.0 390.4,286.8 385.6,282.0" fill="#a0d0f0"/>
<polygon points="427.2,259.0 432.0,263.8 427.2,268.6 422.4,263.8" fill="#a0d0f0"/>
<polygon points="414.3,273.0 419.1,277.8 414.3,282.6 409.5,277.8" fill="#a0d0f0"/>
<polygon points="434.2,266.0 439.0,270.8 434.2,275.6 429.4,270.8" fill="#d21f30"/>
<polygon points="431.2,275.9 436.0,280.7 431.2,285.5 426.4,280.7" fill="#d8aa38"/>
<polygon points="436.2,287.6 441.0,292.4 436.2,297.2 431.4,292.4" fill="#d8aa38"/>
<polygon points="444.6,321.9 449.4,326.7 444.6,331.5 439.8,326.7" fill="#d8aa38"/>
<polygon points="402.0,295.5 406.8,300.3 402.0,305.1 397.2,300.3" fill="#a8a83c"/>
<polygon points="452.4,248.9 457.2,253.7 452.4,258.5 447.6,253.7" fill="#6b3f1e"/>
<polygon points="447.4,278.1 452.2,282.9 447.4,287.7 442.6,282.9" fill="#6b3f1e"/>
<polygon points="446.3,305.6 451.1,310.4 446.3,315.2 441.5,310.4" fill="#6b3f1e"/>
<polygon points="461.2,252.6 466.0,257.4 461.2,262.2 456.4,257.4" fill="#a8a83c"/>
<polygon points="562.0,252.1 566.8,256.9 562.0,261.7 557.2,256.9" fill="#6b3f1e"/>
<polygon points="461.2,298.1 466.0,302.9 461.2,307.7 456.4,302.9" fill="#a8a83c"/>
<polygon points="474.7,308.2 479.5,313.0 474.7,317.8 469.9,313.0" fill="#a8a83c"/>
<polygon points="452.2,302.0 457.0,306.8 452.2,311.6 447.4,306.8" fill="#6b3f1e"/>
<polygon points="461.2,333.4 466.0,338.2 461.2,343.0 456.4,338.2" fill="#a0d0f0"/>
<polygon points="447.5,324.7 452.3,329.5 447.5,334.3 442.7,329.5" fill="#6b3f1e"/>
<polygon points="444.9,333.7 449.7,338.5 444.9,343.3 440.1,338.5" fill="#6b3f1e"/>
<polygon points="444.9,357.3 449.7,362.1 444.9,366.9 440.1,362.1" fill="#6b3f1e"/>
<polygon points="402.7,333.1 407.5,337.9 402.7,342.7 397.9,337.9" fill="#6b3f1e"/>
<polygon points="449.7,359.5 454.5,364.3 449.7,369.1 444.9,364.3" fill="#a0d0f0"/>
<polygon points="466.6,353.3 471.4,358.1 466.6,362.9 461.8,358.1" fill="#d21f30"/>
<polygon points="467.7,358.4 472.5,363.2 467.7,368.0 462.9,363.2" fill="#d21f30"/>
<polygon points="517.0,361.5 521.8,366.3 517.0,371.1 512.2,366.3" fill="#a0d0f0"/>
<polygon points="445.8,379.2 450.6,384.0 445.8,388.8 441.0,384.0" fill="#6b3f1e"/>
<polygon points="453.0,390.4 457.8,395.2 453.0,400.0 448.2,395.2" fill="#6b3f1e"/>
<polygon points="445.2,425.2 450.0,430.0 445.2,434.8 440.4,430.0" fill="#6b3f1e"/>
<polygon points="455.3,380.9 460.1,385.7 455.3,390.5 450.5,385.7" fill="#a8a83c"/>
<polygon points="443.0,415.6 447.8,420.4 443.0,425.2 438.2,420.4" fill="#a0d0f0"/>
<polygon points="448.6,416.2 453.4,421.0 448.6,425.8 443.8,421.0" fill="#d8aa38"/>
<polygon points="455.2,471.4 460.0,476.2 455.2,481.0 450.4,476.2" fill="#6b3f1e"/>
<polygon points="449.6,488.9 454.4,493.7 449.6,498.5 444.8,493.7" fill="#6b3f1e"/>
<polygon points="457.2,501.0 462.0,505.8 457.2,510.6 452.4,505.8" fill="#6b3f1e"/>
<polygon points="450.2,542.8 455.0,547.6 450.2,552.4 445.4,547.6" fill="#6b3f1e"/>
<polygon points="449.3,591.2 454.1,596.0 449.3,600.8 444.5,596.0" fill="#6b3f1e"/>
<polygon points="456.5,594.5 461.3,599.3 456.5,604.1 451.7,599.3" fill="#6b3f1e"/>
<polygon points="462.0,513.7 466.8,518.5 462.0,523.3 457.2,518.5" fill="#a0d0f0"/>
<polygon points="449.7,560.0 454.5,564.8 449.7,569.6 444.9,564.8" fill="#d8aa38"/>
<polygon points="451.4,563.4 456.2,568.2 451.4,573.0 446.6,568.2" fill="#6b3f1e"/>
<polygon points="77.4,569.9 82.2,574.7 77.4,579.5 72.6,574.7" fill="#a0d0f0"/>
<polygon points="506.5,132.2 517.1,132.2 511.8,140.8" fill="none" stroke="#111" stroke-width="1.1"/>
<polygon points="515.0,125.3 525.6,125.3 520.3,133.9" fill="none" stroke="#111" stroke-width="1.1"/>
<polygon points="490.8,164.4 501.4,164.4 496.1,173.0" fill="none" stroke="#111" stroke-width="1.1"/>
<polygon points="497.1,191.6 507.7,191.6 502.4,200.2" fill="none" stroke="#111" stroke-width="1.1"/>
<polygon points="553.2,193.9 563.8,193.9 558.5,202.5" fill="none" stroke="#111" stroke-width="1.1"/>
<polygon points="558.9,193.9 569.5,193.9 564.2,202.5" fill="none" stroke="#111" stroke-width="1.1"/>
<polygon points="497.2,191.4 507.8,191.4 502.5,200.0" fill="none" stroke="#111" stroke-width="1.1"/>
<polygon points="489.2,248.2 499.8,248.2 494.5,256.8" fill="none" stroke="#111" stroke-width="1.1"/>
<polygon points="510.9,281.8 521.5,281.8 516.2,290.4" fill="none" stroke="#111" stroke-width="1.1"/>
<polygon points="445.2,310.4 455.8,310.4 450.5,319.0" fill="none" stroke="#111" stroke-width="1.1"/>
<polygon points="539.8,247.4 550.4,247.4 545.1,256.0" fill="none" stroke="#111" stroke-width="1.1"/>
<polygon points="558.1,241.8 568.7,241.8 563.4,250.4" fill="none" stroke="#111" stroke-width="1.1"/>
<polygon points="563.5,275.5 574.1,275.5 568.8,284.1" fill="none" stroke="#111" stroke-width="1.1"/>
<polygon points="458.7,328.4 469.3,328.4 464.0,337.0" fill="none" stroke="#111" stroke-width="1.1"/>
<polygon points="504.2,326.7 514.8,326.7 509.5,335.3" fill="none" stroke="#111" stroke-width="1.1"/>
<polygon points="428.9,334.4 439.5,334.4 434.2,343.0" fill="none" stroke="#111" stroke-width="1.1"/>
<polygon points="443.3,410.1 453.9,410.1 448.6,418.7" fill="none" stroke="#111" stroke-width="1.1"/>
<circle cx="69.8" cy="154.2" r="3.45" fill="none" stroke="#111" stroke-width="1"/>
<circle cx="70.1" cy="159.7" r="3.45" fill="none" stroke="#111" stroke-width="1"/>
<circle cx="67.2" cy="162.7" r="3.45" fill="none" stroke="#111" stroke-width="1"/>
<circle cx="66.7" cy="165.6" r="3.45" fill="none" stroke="#111" stroke-width="1"/>
<circle cx="77.7" cy="157.8" r="3.45" fill="none" stroke="#111" stroke-width="1"/>
<circle cx="80.4" cy="157.4" r="3.45" fill="none" stroke="#111" stroke-width="1"/>
<circle cx="166.8" cy="125.2" r="3.45" fill="none" stroke="#111" stroke-width="1"/>
<circle cx="214" cy="128.4" r="3.45" fill="none" stroke="#111" stroke-width="1"/>
<circle cx="152" cy="149" r="3.45" fill="none" stroke="#111" stroke-width="1"/>
<circle cx="165.5" cy="171.5" r="3.45" fill="none" stroke="#111" stroke-width="1"/>
<circle cx="165.5" cy="178" r="3.45" fill="none" stroke="#111" stroke-width="1"/>
<circle cx="201.8" cy="180.7" r="3.45" fill="none" stroke="#111" stroke-width="1"/>
<circle cx="200" cy="71.8" r="3.45" fill="none" stroke="#111" stroke-width="1"/>
<circle cx="242.2" cy="143.4" r="3.45" fill="none" stroke="#111" stroke-width="1"/>
<circle cx="267.3" cy="141.2" r="3.45" fill="none" stroke="#111" stroke-width="1"/>
<circle cx="267.3" cy="143.9" r="3.45" fill="none" stroke="#111" stroke-width="1"/>
<circle cx="275.4" cy="143.9" r="3.45" fill="none" stroke="#111" stroke-width="1"/>
<circle cx="334.2" cy="134" r="3.45" fill="none" stroke="#111" stroke-width="1"/>
<circle cx="345.9" cy="141.8" r="3.45" fill="none" stroke="#111" stroke-width="1"/>
<circle cx="305.9" cy="179.1" r="3.45" fill="none" stroke="#111" stroke-width="1"/>
<circle cx="411.1" cy="102.8" r="3.45" fill="none" stroke="#111" stroke-width="1"/>
<circle cx="384.7" cy="136.9" r="3.45" fill="none" stroke="#111" stroke-width="1"/>
<circle cx="421" cy="136.7" r="3.45" fill="none" stroke="#111" stroke-width="1"/>
<circle cx="440.8" cy="135.3" r="3.45" fill="none" stroke="#111" stroke-width="1"/>
<circle cx="451.8" cy="144.1" r="3.45" fill="none" stroke="#111" stroke-width="1"/>
<circle cx="481.4" cy="141.6" r="3.45" fill="none" stroke="#111" stroke-width="1"/>
<circle cx="480.5" cy="158.7" r="3.45" fill="none" stroke="#111" stroke-width="1"/>
<circle cx="409.6" cy="167.4" r="3.45" fill="none" stroke="#111" stroke-width="1"/>
<circle cx="393" cy="173.9" r="3.45" fill="none" stroke="#111" stroke-width="1"/>
<circle cx="397.9" cy="179.5" r="3.45" fill="none" stroke="#111" stroke-width="1"/>
<circle cx="482.3" cy="122.3" r="3.45" fill="none" stroke="#111" stroke-width="1"/>
<circle cx="515.7" cy="127.5" r="3.45" fill="none" stroke="#111" stroke-width="1"/>
<circle cx="516.2" cy="133" r="3.45" fill="none" stroke="#111" stroke-width="1"/>
<circle cx="501.6" cy="131.4" r="3.45" fill="none" stroke="#111" stroke-width="1"/>
<circle cx="153.4" cy="276.8" r="3.45" fill="none" stroke="#111" stroke-width="1"/>
<circle cx="165.5" cy="276.8" r="3.45" fill="none" stroke="#111" stroke-width="1"/>
<circle cx="165.5" cy="314.2" r="3.45" fill="none" stroke="#111" stroke-width="1"/>
<circle cx="199.4" cy="255.4" r="3.45" fill="none" stroke="#111" stroke-width="1"/>
<circle cx="235.2" cy="254.3" r="3.45" fill="none" stroke="#111" stroke-width="1"/>
<circle cx="66.3" cy="330.6" r="3.45" fill="none" stroke="#111" stroke-width="1"/>
<circle cx="124.6" cy="149.9" r="3.75" fill="#000"/>
<circle cx="335.5" cy="159.8" r="3.75" fill="#000"/>
<circle cx="399.4" cy="176.7" r="3.75" fill="#000"/>
<circle cx="466.3" cy="124.8" r="3.75" fill="#000"/>
<circle cx="484.5" cy="121.2" r="3.75" fill="#000"/>
<circle cx="500.8" cy="173" r="3.75" fill="#000"/>
<circle cx="597.2" cy="172.7" r="3.75" fill="#000"/>
<circle cx="639.3" cy="173.9" r="3.75" fill="#000"/>
<circle cx="155.1" cy="304.6" r="3.75" fill="#000"/>
<circle cx="160.5" cy="303.4" r="3.75" fill="#000"/>
<circle cx="163.5" cy="329.5" r="3.75" fill="#000"/>
<circle cx="163.5" cy="340.1" r="3.75" fill="#000"/>
</g>
<line x1="505.4" y1="131.4" x2="518.2" y2="131.4" stroke="#222" stroke-width="0.8"/>
<line x1="480.5" y1="180.8" x2="495" y2="175.4" stroke="#222" stroke-width="0.8"/>
<line x1="168" y1="341.6" x2="180.7" y2="343.3" stroke="#222" stroke-width="0.8"/>
<line x1="430.5" y1="255.9" x2="442.9" y2="256.5" stroke="#222" stroke-width="0.8"/>
<text x="113.9" y="143.2" font-family="Liberation Sans" font-size="10.3" font-weight="normal" font-style="normal" text-anchor="start" fill="#231f20" textLength="25.0" lengthAdjust="spacingAndGlyphs">GW–5</text>
<text x="344.0" y="164.0" font-family="Liberation Sans" font-size="10.3" font-weight="normal" font-style="normal" text-anchor="start" fill="#231f20" textLength="25.2" lengthAdjust="spacingAndGlyphs">GW–2</text>
<text x="403.9" y="187.6" font-family="Liberation Sans" font-size="10.3" font-weight="normal" font-style="normal" text-anchor="start" fill="#231f20" textLength="24.4" lengthAdjust="spacingAndGlyphs">GW–7</text>
<text x="435.8" y="121.4" font-family="Liberation Sans" font-size="10.3" font-weight="normal" font-style="normal" text-anchor="start" fill="#231f20" textLength="25.4" lengthAdjust="spacingAndGlyphs">GW–8</text>
<text x="488.2" y="117.4" font-family="Liberation Sans" font-size="10.3" font-weight="normal" font-style="normal" text-anchor="start" fill="#231f20" textLength="25.3" lengthAdjust="spacingAndGlyphs">GW–6</text>
<text x="450.0" y="185.9" font-family="Liberation Sans" font-size="10.3" font-weight="normal" font-style="normal" text-anchor="start" fill="#231f20" textLength="29.2" lengthAdjust="spacingAndGlyphs">GW–10</text>
<text x="596.0" y="166.0" font-family="Liberation Sans" font-size="10.3" font-weight="normal" font-style="normal" text-anchor="start" fill="#231f20" textLength="24.4" lengthAdjust="spacingAndGlyphs">GW–4</text>
<text x="643.9" y="186.9" font-family="Liberation Sans" font-size="10.3" font-weight="normal" font-style="normal" text-anchor="start" fill="#231f20" textLength="24.0" lengthAdjust="spacingAndGlyphs">GW–1</text>
<text x="163.9" y="299.0" font-family="Liberation Sans" font-size="10.3" font-weight="normal" font-style="normal" text-anchor="start" fill="#231f20" textLength="28.9" lengthAdjust="spacingAndGlyphs">GW–11</text>
<text x="124.0" y="316.0" font-family="Liberation Sans" font-size="10.3" font-weight="normal" font-style="normal" text-anchor="start" fill="#231f20" textLength="25.0" lengthAdjust="spacingAndGlyphs">GW–3</text>
<text x="121.0" y="332.4" font-family="Liberation Sans" font-size="10.3" font-weight="normal" font-style="normal" text-anchor="start" fill="#231f20" textLength="35.6" lengthAdjust="spacingAndGlyphs">GW–9D4</text>
<text x="182.0" y="342.5" font-family="Liberation Sans" font-size="10.3" font-weight="normal" font-style="normal" text-anchor="start" fill="#231f20" textLength="24.8" lengthAdjust="spacingAndGlyphs">GW–9</text>
<text x="182.0" y="354.2" font-family="Liberation Sans" font-size="10.3" font-weight="normal" font-style="normal" text-anchor="start" fill="#231f20" textLength="35.2" lengthAdjust="spacingAndGlyphs">GW–9D5</text>
<text x="403.9" y="258.7" font-family="Liberation Sans" font-size="10.3" font-weight="normal" font-style="normal" text-anchor="start" fill="#231f20" textLength="23.8" lengthAdjust="spacingAndGlyphs">PW–4</text>
<text x="517.1" y="202.3" font-family="Liberation Sans" font-size="10.3" font-weight="normal" font-style="normal" text-anchor="start" fill="#231f20" textLength="23.6" lengthAdjust="spacingAndGlyphs">PW–1</text>
<text x="472.7" y="375.0" font-family="Liberation Sans" font-size="10.3" font-weight="normal" font-style="normal" text-anchor="start" fill="#231f20" textLength="24.2" lengthAdjust="spacingAndGlyphs">PW–2</text>
<text x="462.0" y="402.0" font-family="Liberation Sans" font-size="10.3" font-weight="normal" font-style="normal" text-anchor="start" fill="#231f20" textLength="24.5" lengthAdjust="spacingAndGlyphs">PW–3</text>
<text x="453.0" y="432.8" font-family="Liberation Sans" font-size="10.3" font-weight="normal" font-style="normal" text-anchor="start" fill="#231f20" textLength="24.2" lengthAdjust="spacingAndGlyphs">PW–8</text>
<text x="464.0" y="570.3" font-family="Liberation Sans" font-size="10.3" font-weight="normal" font-style="normal" text-anchor="start" fill="#231f20" textLength="23.6" lengthAdjust="spacingAndGlyphs">PW–7</text>
<text x="547.8" y="109.7" font-family="Liberation Serif" font-size="12.5" font-weight="bold" font-style="italic" text-anchor="start" fill="#231f20" textLength="12.0" lengthAdjust="spacingAndGlyphs">A′</text>
<text x="155.6" y="514.6" font-family="Liberation Serif" font-size="12.5" font-weight="bold" font-style="italic" text-anchor="start" fill="#231f20" textLength="6.7" lengthAdjust="spacingAndGlyphs">A</text>
<text x="387.3" y="726.7" font-family="Liberation Sans" font-size="13.8" font-weight="bold" font-style="normal" text-anchor="middle" fill="#231f20" textLength="79.3" lengthAdjust="spacingAndGlyphs" stroke="#231f20" stroke-width="0.3">EXPLANATION</text>
<text x="149.6" y="747.2" font-family="Liberation Sans" font-size="12.2" font-weight="bold" font-style="normal" text-anchor="start" fill="#231f20" textLength="203.7" lengthAdjust="spacingAndGlyphs" stroke="#231f20" stroke-width="0.3">Extent of oil field administrative boundary</text>
<text x="164.8" y="762.0" font-family="Liberation Sans" font-size="12.2" font-weight="bold" font-style="normal" text-anchor="start" fill="#231f20" textLength="132.1" lengthAdjust="spacingAndGlyphs" stroke="#231f20" stroke-width="0.3">on southern side of oil field</text>
<line x1="105" y1="743.5" x2="127.3" y2="743.5" stroke="#444" stroke-width="1"/>
<line x1="105.5" y1="740" x2="105.5" y2="747" stroke="#444" stroke-width="1"/><line x1="127" y1="740" x2="127" y2="747" stroke="#444" stroke-width="1"/>
<line x1="105" y1="779" x2="127.3" y2="779" stroke="#999" stroke-width="1.1"/>
<line x1="93.7" y1="812.8" x2="110.5" y2="812.8" stroke="#888" stroke-width="1.2"/><line x1="121" y1="812.8" x2="137.8" y2="812.8" stroke="#888" stroke-width="1.2"/>
<text x="149.6" y="782.3" font-family="Liberation Sans" font-size="12.2" fill="#231f20"><tspan font-weight="bold" stroke="#231f20" stroke-width="0.3" textLength="98.3" lengthAdjust="spacingAndGlyphs">Top of Shepard zone</tspan><tspan textLength="185.9" lengthAdjust="spacingAndGlyphs">—Data are from California Department</tspan></text>
<text x="164.8" y="797.0" font-family="Liberation Sans" font-size="12.2" font-weight="normal" font-style="normal" text-anchor="start" fill="#231f20" textLength="252.9" lengthAdjust="spacingAndGlyphs">of Conservation (1992); see figure 3 for line of section</text>
<text x="149.6" y="817.6" font-family="Liberation Sans" font-size="12.2" fill="#231f20"><tspan font-weight="bold" stroke="#231f20" stroke-width="0.3" textLength="196.1" lengthAdjust="spacingAndGlyphs">Estimated top of oil sand or saline water</tspan><tspan textLength="126.4" lengthAdjust="spacingAndGlyphs">—Data are from California</tspan></text>
<text x="164.8" y="832.3" font-family="Liberation Sans" font-size="12.2" font-weight="normal" font-style="normal" text-anchor="start" fill="#231f20" textLength="312.5" lengthAdjust="spacingAndGlyphs">Department of Conservation (1992); see figure 3 for line of section</text>
<text x="150.1" y="853.6" font-family="Liberation Sans" font-size="12.2" font-weight="bold" font-style="normal" text-anchor="start" fill="#231f20" textLength="150.2" lengthAdjust="spacingAndGlyphs" stroke="#231f20" stroke-width="0.3">RMP sample site and identifier</text>
<text x="165.5" y="867.4" font-family="Liberation Sans" font-size="12.2" font-weight="normal" font-style="normal" text-anchor="start" fill="#231f20" textLength="62.7" lengthAdjust="spacingAndGlyphs">Groundwater</text>
<text x="75.4" y="866.2" font-family="Liberation Sans" font-size="12.2" font-weight="normal" font-style="normal" text-anchor="start" fill="#231f20" textLength="28.7" lengthAdjust="spacingAndGlyphs">GW–1</text>
<circle cx="114" cy="863.2" r="3.6" fill="#000"/>
<text x="165.5" y="882.3" font-family="Liberation Sans" font-size="12.2" font-weight="normal" font-style="normal" text-anchor="start" fill="#231f20" textLength="76.5" lengthAdjust="spacingAndGlyphs">Produced water</text>
<text x="76.0" y="883.0" font-family="Liberation Sans" font-size="12.2" font-weight="normal" font-style="normal" text-anchor="start" fill="#231f20" textLength="28.1" lengthAdjust="spacingAndGlyphs">PW–1</text>
<polygon points="107.8,883.2 120.2,883.2 114,872.4" fill="#000"/>
<text x="150.1" y="903.3" font-family="Liberation Sans" font-size="12.2" font-weight="bold" font-style="normal" text-anchor="start" fill="#231f20" textLength="105.8" lengthAdjust="spacingAndGlyphs" stroke="#231f20" stroke-width="0.3">Historical sample site</text>
<text x="165.5" y="917.8" font-family="Liberation Sans" font-size="12.2" font-weight="normal" font-style="normal" text-anchor="start" fill="#231f20" textLength="62.7" lengthAdjust="spacingAndGlyphs">Groundwater</text>
<circle cx="114" cy="913.4" r="3.3" fill="none" stroke="#111" stroke-width="1"/>
<text x="165.5" y="932.6" font-family="Liberation Sans" font-size="12.2" font-weight="normal" font-style="normal" text-anchor="start" fill="#231f20" textLength="76.5" lengthAdjust="spacingAndGlyphs">Produced water</text>
<polygon points="109.2,922.3 119,922.3 114.1,931.5" fill="none" stroke="#111" stroke-width="1"/>
<rect x="502.4" y="740.4" width="4.6" height="4.6" fill="#111"/>
<text x="516.8" y="747.0" font-family="Liberation Sans" font-size="12.2" font-weight="bold" font-style="normal" text-anchor="start" fill="#231f20" textLength="125.8" lengthAdjust="spacingAndGlyphs" stroke="#231f20" stroke-width="0.3">Steam or water flood well</text>
<text x="531.1" y="759.7" font-family="Liberation Sans" font-size="12.2" font-weight="bold" font-style="normal" text-anchor="start" fill="#231f20" textLength="110.6" lengthAdjust="spacingAndGlyphs" stroke="#231f20" stroke-width="0.3">(colors defined below)</text>
<polygon points="504.5,773.6 508.8,777.9 504.5,782.2 500.2,777.9" fill="#111"/>
<text x="516.8" y="781.2" font-family="Liberation Sans" font-size="12.2" font-weight="bold" font-style="normal" text-anchor="start" fill="#231f20" textLength="147.1" lengthAdjust="spacingAndGlyphs" stroke="#231f20" stroke-width="0.3">Produced-water disposal well</text>
<text x="530.9" y="794.2" font-family="Liberation Sans" font-size="12.2" font-weight="bold" font-style="normal" text-anchor="start" fill="#231f20" textLength="110.6" lengthAdjust="spacingAndGlyphs" stroke="#231f20" stroke-width="0.3">(colors defined below)</text>
<text x="516.8" y="813.8" font-family="Liberation Sans" font-size="12.2" font-weight="bold" font-style="normal" text-anchor="start" fill="#231f20" textLength="182.2" lengthAdjust="spacingAndGlyphs" stroke="#231f20" stroke-width="0.3">Water injection volume (January 1977</text>
<text x="530.9" y="828.3" font-family="Liberation Sans" font-size="12.2" font-weight="bold" font-style="normal" text-anchor="start" fill="#231f20" textLength="163.0" lengthAdjust="spacingAndGlyphs" stroke="#231f20" stroke-width="0.3">to February 2018), in cubic meters</text>
<rect x="502.9" y="841.8" width="5.6" height="5.6" fill="#acd6f2"/>
<text x="524.6" y="848.2" font-family="Liberation Sans" font-size="12.2" font-weight="normal" font-style="normal" text-anchor="start" fill="#231f20" textLength="45.6" lengthAdjust="spacingAndGlyphs">1–200,000</text>
<rect x="502.9" y="861.1" width="5.6" height="5.6" fill="#b3b46a"/>
<text x="524.6" y="867.5" font-family="Liberation Sans" font-size="12.2" font-weight="normal" font-style="normal" text-anchor="start" fill="#231f20" textLength="74.8" lengthAdjust="spacingAndGlyphs">200,001–400,000</text>
<rect x="502.9" y="880.3" width="5.6" height="5.6" fill="#e0bd5e"/>
<text x="524.6" y="886.7" font-family="Liberation Sans" font-size="12.2" font-weight="normal" font-style="normal" text-anchor="start" fill="#231f20" textLength="74.8" lengthAdjust="spacingAndGlyphs">400,001–600,000</text>
<rect x="502.9" y="899.6" width="5.6" height="5.6" fill="#de4c5c"/>
<text x="524.6" y="906.0" font-family="Liberation Sans" font-size="12.2" font-weight="normal" font-style="normal" text-anchor="start" fill="#231f20" textLength="74.8" lengthAdjust="spacingAndGlyphs">600,001–800,000</text>
<rect x="502.9" y="918.8" width="5.6" height="5.6" fill="#5e4848"/>
<text x="524.6" y="925.2" font-family="Liberation Sans" font-size="12.2" font-weight="normal" font-style="normal" text-anchor="start" fill="#231f20" textLength="97.6" lengthAdjust="spacingAndGlyphs">Greater than 800,000</text>
</svg></body></html>
